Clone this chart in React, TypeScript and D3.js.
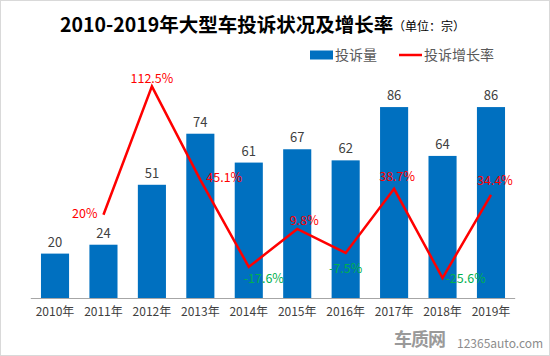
import React from "react";
import * as d3 from "d3";

const years = ["2010年", "2011年", "2012年", "2013年", "2014年", "2015年", "2016年", "2017年", "2018年", "2019年"];
const complaints = [20, 24, 51, 74, 61, 67, 62, 86, 64, 86];
const growth: (number | null)[] = [null, 20, 112.5, 45.1, -17.6, 9.8, -7.5, 38.7, -25.6, 34.4];
const growthLabels = ["", "20%", "112.5%", "45.1%", "-17.6%", "9.8%", "-7.5%", "38.7%", "-25.6%", "34.4%"];

// label placement offsets (dx, dy of text center relative to point, anchor)
const labelPlacement: [number, number, string][] = [
  [0, 0, "middle"],
  [-6, -1, "end"],
  [0, -8, "middle"],
  [6, -2, "start"],
  [15, 12, "middle"],
  [7, -8, "middle"],
  [0, 16, "middle"],
  [3, -12, "middle"],
  [3, 0, "start"],
  [4, -14, "middle"],
];

const W = 550;
const H = 356;
const FONT = "'Noto Sans CJK SC', 'Noto Sans', sans-serif";

export default function App() {
  const x = d3.scaleBand<string>().domain(years).range([30.8, 515.2]).paddingInner(0.42).paddingOuter(0.21);
  const y = d3.scaleLinear().domain([0, 100]).range([298, 76]);
  const y2 = d3.scaleLinear().domain([-40, 120]).range([298, 76]);
  const cx = (i: number) => (x(years[i]) as number) + x.bandwidth() / 2;

  const pts = growth
    .map((v, i) => (v === null ? null : ([cx(i), y2(v)] as [number, number])))
    .filter((p): p is [number, number] => p !== null);
  const line = d3.line<[number, number]>()(pts) as string;

  return (
    <svg width={W} height={H} style={{ position: "fixed", left: 0, top: 0 }} fontFamily={FONT}>
      <rect x={0} y={0} width={W} height={H} fill="#fff" />
      <rect x={0.5} y={0.5} width={W - 1} height={H - 1} fill="none" stroke="#d9d9d9" />
      <text x={60} y={32} fontSize={19.5} fontWeight="bold" fill="#000">
        2010-2019年大型车投诉状况及增长率
      </text>
      <text x={393} y={31} fontSize={12} fill="#000">（单位：宗）</text>

      {/* legend */}
      <rect x={310} y={50.5} width={23} height={9} fill="#0070c0" />
      <text x={335} y={60} fontSize={14} fill="#595959">投诉量</text>
      <line x1={399} x2={422} y1={55} y2={55} stroke="#ff0000" strokeWidth={2.5} />
      <text x={424} y={60} fontSize={14} fill="#595959">投诉增长率</text>

      {/* bars */}
      {complaints.map((v, i) => (
        <g key={i}>
          <rect x={x(years[i])} y={y(v)} width={x.bandwidth()} height={y(0) - y(v)} fill="#0070c0" />
          <text x={cx(i)} y={y(v) - 7} fontSize={13} textAnchor="middle" fill="#404040">
            {v}
          </text>
        </g>
      ))}

      {/* axis */}
      <line x1={30.8} x2={515.2} y1={298.5} y2={298.5} stroke="#a6a6a6" strokeWidth={1} />
      {years.map((yr, i) => (
        <text key={yr} x={cx(i)} y={316} fontSize={12} textAnchor="middle" fill="#404040">
          {yr}
        </text>
      ))}

      {/* growth line */}
      <path d={line} fill="none" stroke="#ff0000" strokeWidth={2.5} strokeLinejoin="miter" />
      {growth.map((v, i) => {
        if (v === null) return null;
        const [dx, dy, anchor] = labelPlacement[i];
        return (
          <text
            key={i}
            x={cx(i) + dx}
            y={y2(v) + dy + 4.5}
            fontSize={12.5}
            textAnchor={anchor as any}
            fill={v >= 0 ? "#ff0000" : "#00b050"}
          >
            {growthLabels[i]}
          </text>
        );
      })}

      {/* watermark */}
      <text x={394} y={346} fontSize={18} fontWeight="bold" fill="#9a9a9a" letterSpacing={-1}>
        车质网
      </text>
      <text x={457} y={348} fontSize={12} fill="#8c8c8c">12365auto.com</text>
    </svg>
  );
}
